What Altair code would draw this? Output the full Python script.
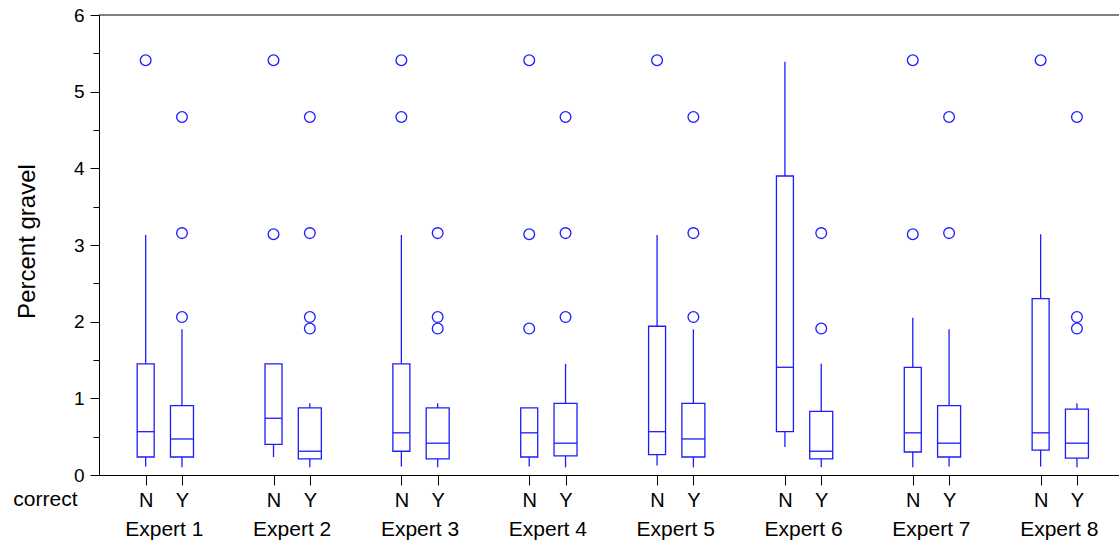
import json
import altair as alt
import pandas as pd

# ---------------- data ----------------
experts = ["Expert 1", "Expert 2", "Expert 3", "Expert 4",
           "Expert 5", "Expert 6", "Expert 7", "Expert 8"]
correct = ["N", "Y"]

# order: Expert1 N, Expert1 Y, Expert2 N, Expert2 Y, ...
whisker_low = [0.11, 0.10, 0.235, 0.10, 0.11, 0.10, 0.11, 0.10,
               0.125, 0.10, 0.365, 0.10, 0.10, 0.11, 0.11, 0.10]
q1 = [0.235, 0.235, 0.40, 0.21, 0.31, 0.21, 0.235, 0.25,
      0.265, 0.235, 0.565, 0.21, 0.30, 0.235, 0.325, 0.22]
median = [0.565, 0.47, 0.74, 0.31, 0.55, 0.415, 0.55, 0.415,
          0.565, 0.47, 1.405, 0.31, 0.55, 0.415, 0.55, 0.415]
q3 = [1.45, 0.905, 1.45, 0.875, 1.45, 0.875, 0.875, 0.935,
      1.94, 0.935, 3.90, 0.83, 1.405, 0.905, 2.30, 0.86]
whisker_high = [3.13, 1.90, 1.45, 0.935, 3.13, 0.935, 0.875, 1.45,
                3.13, 1.90, 5.39, 1.45, 2.05, 1.90, 3.14, 0.935]
outliers = [
    [5.41], [4.67, 3.155, 2.06],
    [5.41, 3.14], [4.67, 3.155, 2.06, 1.91],
    [5.41, 4.67], [3.155, 2.06, 1.91],
    [5.41, 3.14, 1.91], [4.67, 3.155, 2.06],
    [5.41], [4.67, 3.155, 2.06],
    [], [3.155, 1.91],
    [5.41, 3.14], [4.67, 3.155],
    [5.41], [4.67, 2.06, 1.91],
]

# ---------------- tables ----------------
rows, orows = [], []
k = 0
for i, e in enumerate(experts):
    for c in correct:
        rows.append(dict(expert=e, idx=i + 1, correct=c, lo=whisker_low[k],
                         q1=q1[k], med=median[k], q3=q3[k], hi=whisker_high[k]))
        for v in outliers[k]:
            orows.append(dict(expert=e, idx=i + 1, correct=c, value=v))
        k += 1
boxes = pd.DataFrame(rows)
outs = pd.DataFrame(orows)

# ---------------- styling ----------------
BLUE = "#1c1cff"
FONT = "Liberation Sans, Arial, sans-serif"
OFF = 0.142
calc = f"datum.idx + (datum.correct == 'N' ? {-OFF} : {OFF})"

xs = alt.Scale(domain=[0.493, 8.471], nice=False, zero=False, padding=0)
ys = alt.Scale(domain=[0, 6], nice=False, zero=True, padding=0)

ny_values = [i + s * OFF for i in range(1, len(experts) + 1) for s in (-1, 1)]

axis_ny = alt.Axis(orient="bottom", values=ny_values,
                   labelExpr="datum.value < round(datum.value) ? 'N' : 'Y'",
                   tickSize=10, labelPadding=5, labelFontSize=20, labelFont=FONT,
                   title="correct", titleFont=FONT, titleFontSize=21,
                   titleFontWeight="normal", titleAngle=0, titleAlign="right",
                   titleBaseline="alphabetic", titleX=-22, titleY=30,
                   domainColor="black", tickColor="black", labelColor="black",
                   titleColor="black", grid=False)
axis_exp = alt.Axis(orient="bottom", values=list(range(1, len(experts) + 1)),
                    labelExpr=f"{json.dumps(experts)}[round(datum.value) - 1]",
                    tickSize=0, domain=False, labelPadding=43, labelFontSize=21,
                    labelFont=FONT, labelColor="black", title=None, grid=False)
axis_y = alt.Axis(orient="left", values=[0, 1, 2, 3, 4, 5, 6], tickSize=9,
                  labelPadding=6, labelFontSize=19, labelFont=FONT,
                  labelColor="black", domainColor="black", tickColor="black",
                  title="Percent gravel", titleFont=FONT, titleFontSize=24,
                  titleFontWeight="normal", titleColor="black",
                  titleBaseline="alphabetic", titleAlign="center",
                  titleX=-65, titleY=226, grid=False)
axis_minor = alt.Axis(orient="left", values=[0.5, 1.5, 2.5, 3.5, 4.5, 5.5],
                      tickSize=6, labels=False, domain=False, tickColor="black",
                      title=None, grid=False)

size_scale = alt.Scale(domain=correct, range=[17, 23])

top = alt.Chart(pd.DataFrame({"v": [0]})).mark_rule(
    color="black", strokeWidth=1
).encode(y=alt.YDatum(datum=6, type="quantitative", scale=ys, axis=None))

whisk = alt.Chart(boxes).transform_calculate(xpos=calc).mark_rule(
    color=BLUE, strokeWidth=1.3
).encode(
    x=alt.X("xpos:Q", scale=xs, axis=axis_ny),
    y=alt.Y("lo:Q", scale=ys, axis=axis_y),
    y2="hi:Q",
)

box = alt.Chart(boxes).transform_calculate(xpos=calc).mark_bar(
    fill="white", stroke=BLUE, strokeWidth=1.3
).encode(
    x=alt.X("xpos:Q", scale=xs, axis=axis_exp),
    y=alt.Y("q1:Q", scale=ys, axis=axis_minor),
    y2="q3:Q",
    size=alt.Size("correct:N", scale=size_scale, legend=None),
)

med = alt.Chart(boxes).transform_calculate(xpos=calc).mark_tick(
    orient="horizontal", color=BLUE, thickness=1.3, opacity=1
).encode(
    x=alt.X("xpos:Q", scale=xs, axis=None),
    y=alt.Y("med:Q", scale=ys, axis=None),
    size=alt.Size("correct:N", scale=size_scale, legend=None),
)

pts = alt.Chart(outs).transform_calculate(xpos=calc).mark_point(
    shape="circle", filled=False, color=BLUE, size=115, strokeWidth=1.3, opacity=1
).encode(
    x=alt.X("xpos:Q", scale=xs, axis=None),
    y=alt.Y("value:Q", scale=ys, axis=None),
)

chart = alt.layer(top, whisk, box, med, pts).resolve_axis(
    x="independent", y="independent"
).properties(
    width=1020, height=460,
    autosize=alt.AutoSizeParams(type="none"),
    padding={"left": 99, "top": 15, "right": 0, "bottom": 68},
).configure_view(stroke=None)

chart.save("out.html", embed_options={"renderer": "svg", "actions": False})
